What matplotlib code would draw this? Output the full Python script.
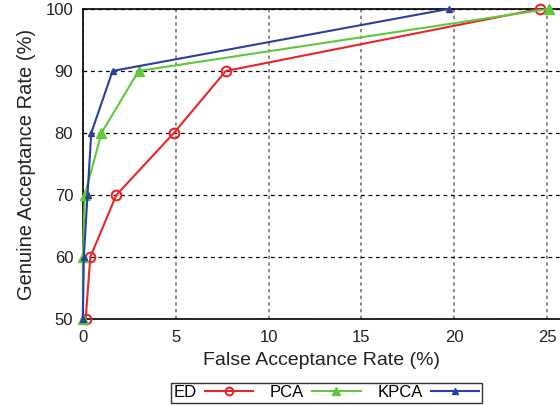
import matplotlib
matplotlib.use('Agg')
import matplotlib.pyplot as plt

plt.rcParams['font.family'] = ['Liberation Sans', 'DejaVu Sans']

gar = [50, 60, 70, 80, 90, 100]
far_ed = [0.15, 0.4, 1.8, 4.9, 7.7, 24.6]
far_pca = [0.0, 0.0, 0.1, 1.0, 3.0, 25.1]
far_kpca = [0.0, 0.05, 0.25, 0.45, 1.6, 19.7]

fig = plt.figure(figsize=(5.6, 4.05), dpi=100)
ax = fig.add_axes([0.148, 0.212, 0.852, 0.766])

ax.plot(far_ed, gar, color='#e8262a', lw=1.5, marker='o', ms=7,
        mfc='none', mew=1.5, label='ED', clip_on=False, zorder=3)
ax.plot(far_pca, gar, color='#5fc83c', lw=1.5, marker='^', ms=7,
        label='PCA', clip_on=False, zorder=3)
ax.plot(far_kpca, gar, color='#2b3f9e', lw=1.5, marker='^', ms=5,
        label='KPCA', clip_on=False, zorder=4)

ax.set_xlim(0, 25.7)
ax.set_ylim(50, 100)
ax.set_xticks([0, 5, 10, 15, 20, 25])
ax.set_yticks([50, 60, 70, 80, 90, 100])
ax.tick_params(direction='in', length=0, labelsize=12, colors='#222222')
ax.tick_params(axis='x', pad=8)
ax.tick_params(axis='y', pad=7)
ax.spines['right'].set_visible(False)
for s in ['left', 'bottom', 'top']:
    ax.spines[s].set_linewidth(1.2)

ax.xaxis.grid(True, color='#777777', ls=(0, (2, 2)), lw=1.2)
ax.yaxis.grid(True, color='black', ls=(0, (3, 3)), lw=0.9)

ax.set_xlabel('False Acceptance Rate (%)', fontsize=14, color='#222222', labelpad=5)
ax.set_ylabel('Genuine Acceptance Rate (%)', fontsize=14.5, color='#222222', labelpad=7)

leg = ax.legend(loc='upper center', bbox_to_anchor=(0.51, -0.205), ncol=3,
                markerfirst=False, frameon=True, fancybox=False, fontsize=12,
                handlelength=2.9, columnspacing=1.0, handletextpad=0.5,
                borderpad=0.15, borderaxespad=0, markerscale=0.8)
leg.get_frame().set_edgecolor('black')
leg.get_frame().set_linewidth(1.0)

fig.savefig('out.png', dpi=100)
